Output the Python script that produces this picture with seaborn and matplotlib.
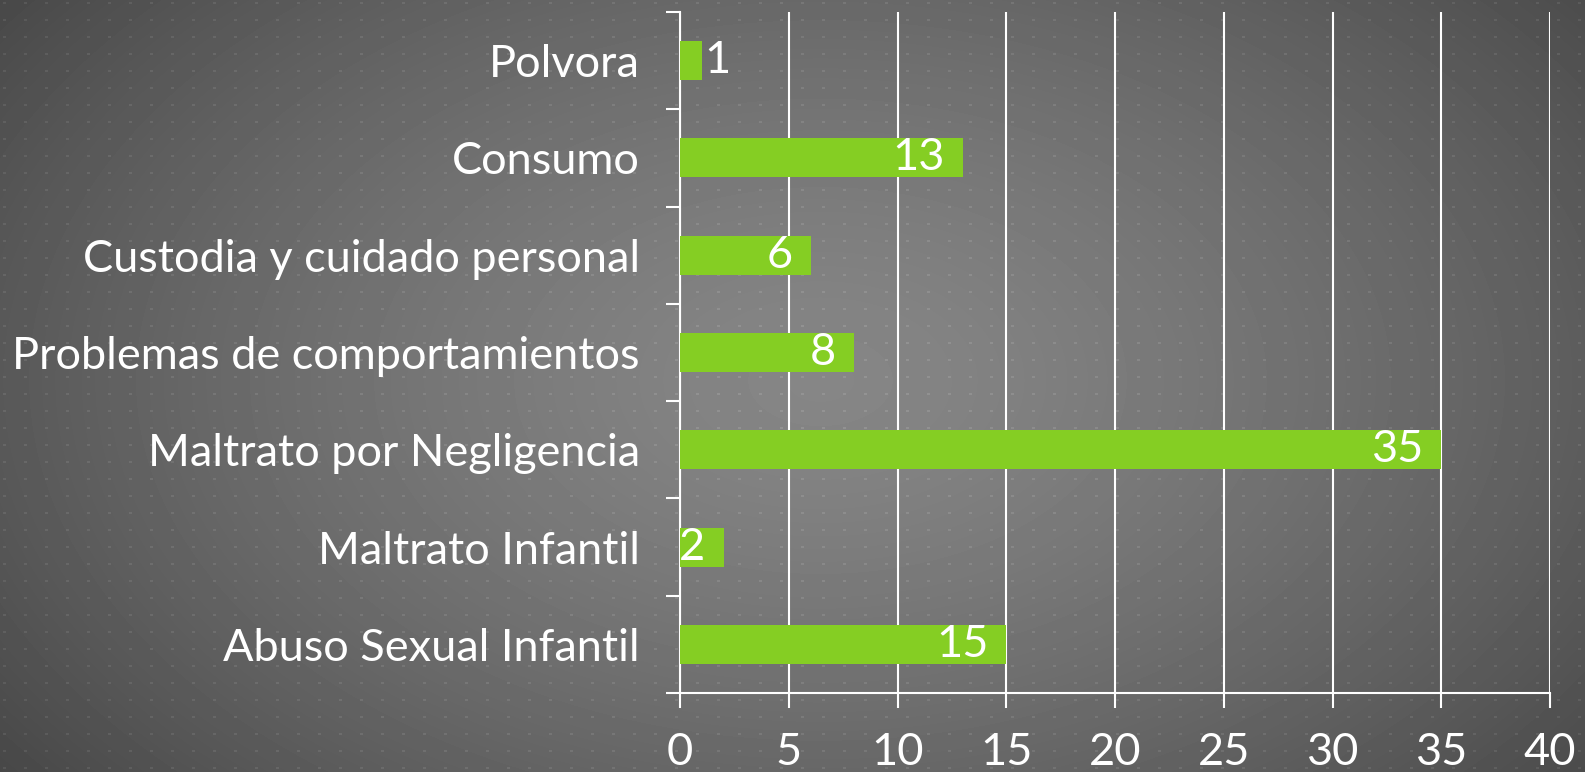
import numpy as np
import matplotlib
matplotlib.use('Agg')
import matplotlib.pyplot as plt
import seaborn as sns

categories = ['Polvora', 'Consumo', 'Custodia y cuidado personal',
              'Problemas de comportamientos', 'Maltrato por Negligencia',
              'Maltrato Infantil', 'Abuso Sexual Infantil']
values = [1, 13, 6, 8, 35, 2, 15]
x_ticks = [0, 5, 10, 15, 20, 25, 30, 35, 40]

bar_color = '#85CE23'
font = ['Lato', 'DejaVu Sans']
fs = 32.5

sns.set_style('white')
plt.rcParams['font.family'] = font

W, H = 1585, 772
fig = plt.figure(figsize=(W / 100, H / 100), dpi=100)

# background: radial grey gradient with a small dot pattern
yy, xx = np.mgrid[0:H, 0:W]
r = np.sqrt(((xx - 820) / 950.0) ** 2 + ((yy - 380) / 600.0) ** 2)
bg = 134 - 56 * np.clip(r, 0, 1.3) ** 1.4
dots = ((xx - 3) % 21 < 3) & ((yy - 2) % 17 < 2)
bg = bg + dots * 14
bg = np.clip(bg, 0, 255) / 255.0
ax_bg = fig.add_axes([0, 0, 1, 1], zorder=-1)
ax_bg.imshow(bg, cmap='gray', vmin=0, vmax=1, aspect='auto', interpolation='nearest')
ax_bg.axis('off')

ax = fig.add_axes([680 / W, 1 - 693 / H, 870 / W, 681 / H])
ax.set_facecolor('none')

sns.barplot(x=values, y=categories, orient='h', color=bar_color,
            width=0.4, saturation=1, linewidth=0, edgecolor='none',
            ax=ax, zorder=3)

ax.set_xlim(0, 40)
ax.set_ylim(6.5, -0.5)
ax.set_xticks(x_ticks)
ax.set_xticklabels([str(t) for t in x_ticks])
ax.set_yticks(range(len(categories)))
ax.set_yticklabels(categories)
ax.set_yticks(np.arange(-0.5, len(categories)), minor=True)

for s in ['top', 'right']:
    ax.spines[s].set_visible(False)
for s in ['left', 'bottom']:
    ax.spines[s].set_color('white')
    ax.spines[s].set_linewidth(1.5)

ax.xaxis.grid(True, color='white', linewidth=1.5, zorder=0)
ax.yaxis.grid(False)
ax.set_axisbelow(True)

ax.tick_params(axis='x', colors='white', length=11, width=1.5,
               labelsize=fs, pad=17, direction='out', bottom=True)
ax.tick_params(axis='y', which='major', length=0, labelsize=fs,
               labelcolor='white', pad=29)
ax.tick_params(axis='y', which='minor', length=10, width=1.5,
               color='white', left=True)
ax.set_xlabel('')
ax.set_ylabel('')

for i, v in enumerate(values):
    if v < 1.5:
        ax.annotate(str(v), (v, i), xytext=(2, 0), textcoords='offset points',
                    ha='left', va='center', color='white', fontsize=fs)
    else:
        ax.annotate(str(v), (v, i), xytext=(-13, 0), textcoords='offset points',
                    ha='right', va='center', color='white', fontsize=fs)

fig.savefig('out.png', dpi=100)
